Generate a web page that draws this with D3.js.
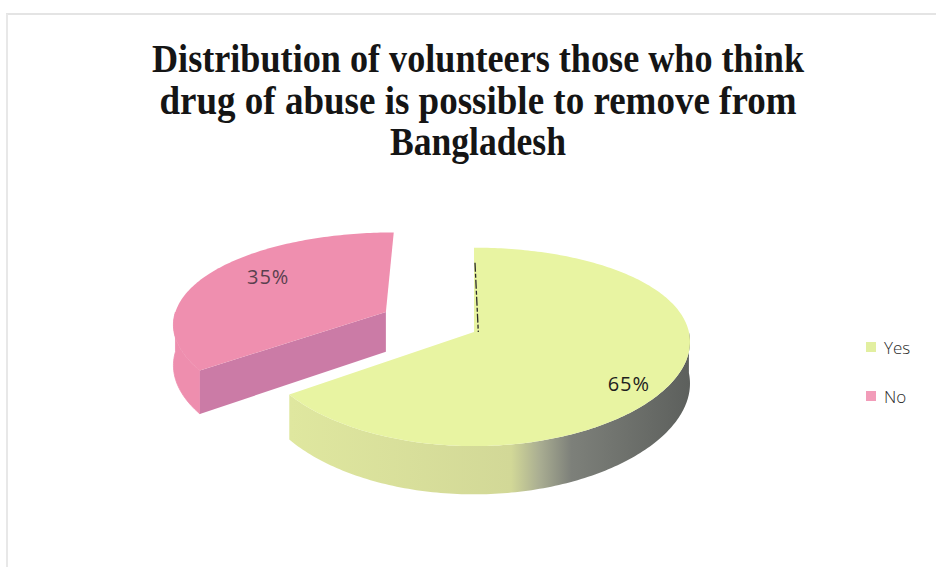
<!DOCTYPE html>
<html>
<head>
<meta charset="utf-8">
<script src="https://cdn.jsdelivr.net/npm/d3@7"></script>
<style>
  html, body { margin: 0; padding: 0; background: #fff; }
  svg { display: block; }
</style>
</head>
<body>
<svg id="chart" width="936" height="567"></svg>
<script>
// Survey answers
const categories = ["Yes", "No"];
const values = [65, 35];
const labelTexts = ["65%", "35%"];
const titleLines = [
  "Distribution of volunteers those who think",
  "drug of abuse is possible to remove from",
  "Bangladesh"
];

const svg = d3.select("#chart");
const W = 936, H = 567;

// frame
svg.append("line").attr("x1", 6).attr("x2", W).attr("y1", 14).attr("y2", 14)
  .attr("stroke", "#e4e4e4").attr("stroke-width", 2);
svg.append("line").attr("x1", 7).attr("x2", 7).attr("y1", 14).attr("y2", H)
  .attr("stroke", "#e8e8e8").attr("stroke-width", 2);

// title: tall, condensed bold serif
const titleWidths = [652, 637, 176];
const titleBaselines = [72, 114, 155];
titleLines.forEach((t, i) => {
  svg.append("text")
    .attr("x", 478).attr("y", titleBaselines[i])
    .attr("text-anchor", "middle")
    .attr("font-family", "'Liberation Serif', 'DejaVu Serif', serif")
    .attr("font-weight", "bold")
    .attr("font-size", 39)
    .attr("fill", "#151515")
    .attr("textLength", titleWidths[i])
    .attr("lengthAdjust", "spacingAndGlyphs")
    .text(t);
});

// 3D pie projection: plane coords (u right, v toward viewer), z = 0 top, 1 bottom
const P = { cx: 474, cy: 332, A: 214.9, B: 97, kx: 0.1, ky: 0.15, D: 41 };
function proj(u, v, z) {
  const sx = 1 / (1 - P.kx * v);
  const sy = 1 / (1 - P.ky * v);
  return [P.cx + P.A * u * sx, P.cy + (P.B * v + z * P.D) * sy];
}

const arcs = d3.pie().sort(null).value(d => d)
  .startAngle(0).endAngle(2 * Math.PI)(values);

const explode = [0, 0.47];
const topColor = ["#e8f4a2", "#ef8faf"];
const rimColor = [null, "#ee8eae"];
const cutColor = [null, "#cb7ba6"];

const defs = svg.append("defs");
const grad = defs.append("linearGradient")
  .attr("id", "yesSide").attr("gradientUnits", "userSpaceOnUse")
  .attr("x1", 290).attr("x2", 692).attr("y1", 0).attr("y2", 0);
[[0, "#dfe79f"], [0.55, "#d2d897"], [0.62, "#aaae92"], [0.7, "#7d807a"], [1, "#5c5f5c"]]
  .forEach(([o, c]) => grad.append("stop").attr("offset", o).attr("stop-color", c));

const line = d3.line();
const step = Math.PI / 180;

function rim(a0, a1, off, z) {
  const pts = [];
  const n = Math.max(2, Math.ceil(Math.abs(a1 - a0) / step));
  for (let i = 0; i <= n; i++) {
    const a = a0 + (a1 - a0) * i / n;
    pts.push(proj(off[0] + Math.sin(a), off[1] - Math.cos(a), z));
  }
  return pts;
}

// slices drawn back to front: No (behind, left) first
const order = [1, 0];
order.forEach(i => {
  const d = arcs[i];
  const mid = (d.startAngle + d.endAngle) / 2;
  const off = [explode[i] * Math.sin(mid), -explode[i] * Math.cos(mid)];
  const g = svg.append("g").attr("class", "slice-" + categories[i]);

  // outer side visible on front half
  const f0 = Math.max(d.startAngle, Math.PI / 2);
  const f1 = Math.min(d.endAngle, 3 * Math.PI / 2);
  if (f1 > f0) {
    const pts = rim(f0, f1, off, 0).concat(rim(f1, f0, off, 1));
    g.append("path").attr("d", line(pts) + "Z")
      .attr("fill", i === 0 ? "url(#yesSide)" : rimColor[i])
      .attr("stroke", i === 0 ? "none" : rimColor[i]).attr("stroke-width", 0.8);
  }

  // cut face at the start angle if it faces the viewer
  if (Math.cos(d.startAngle - Math.PI / 2) < -0.05) {
    const a = d.startAngle;
    const r = [off[0] + Math.sin(a), off[1] - Math.cos(a)];
    const pts = [proj(off[0], off[1], 0), proj(r[0], r[1], 0), proj(r[0], r[1], 1), proj(off[0], off[1], 1)];
    g.append("path").attr("d", line(pts) + "Z").attr("fill", cutColor[i]);
  }

  // top face
  const topPts = [proj(off[0], off[1], 0)].concat(rim(d.startAngle, d.endAngle, off, 0));
  g.append("path").attr("d", line(topPts) + "Z").attr("fill", topColor[i]);
});

// edge-on cut face of the Yes slice at 12 o'clock
{
  const p0 = proj(0.005, -0.8, 0);
  const p1 = proj(0.02, 0, 0);
  svg.append("line").attr("x1", p0[0]).attr("y1", p0[1]).attr("x2", p1[0]).attr("y2", p1[1])
    .attr("stroke", "#2a2a2a").attr("stroke-width", 1.3).attr("stroke-dasharray", "9 2 4 2");
}

// percentage labels
const labelR = [0.78, 0.66];
const labelZ = [0.35, -0.25];
const labelFill = ["#1e1e1e", "#5a3f4e"];
arcs.forEach((d, i) => {
  const mid = (d.startAngle + d.endAngle) / 2;
  const e = explode[i], r = labelR[i];
  const p = proj((e + r) * Math.sin(mid), -(e + r) * Math.cos(mid), labelZ[i]);
  svg.append("text")
    .attr("x", p[0]).attr("y", p[1])
    .attr("text-anchor", "middle").attr("dominant-baseline", "central")
    .attr("font-family", "'Open Sans', 'Liberation Sans', sans-serif")
    .attr("font-size", 20).attr("letter-spacing", 1)
    .attr("fill", labelFill[i])
    .text(labelTexts[i]);
});

// legend
const legendColor = ["#e2efa0", "#f29cb9"];
const legend = svg.append("g").attr("transform", "translate(866,347)");
categories.forEach((c, i) => {
  const row = legend.append("g").attr("transform", `translate(0,${i * 49})`);
  row.append("rect").attr("x", 0).attr("y", -5).attr("width", 10).attr("height", 10)
    .attr("fill", legendColor[i]);
  row.append("text").attr("x", 18).attr("y", 0).attr("dominant-baseline", "central")
    .attr("font-family", "'Open Sans', 'Liberation Sans', sans-serif")
    .attr("font-size", 17).attr("font-weight", 300).attr("fill", "#2a2a2a")
    .text(c);
});
</script>
</body>
</html>
